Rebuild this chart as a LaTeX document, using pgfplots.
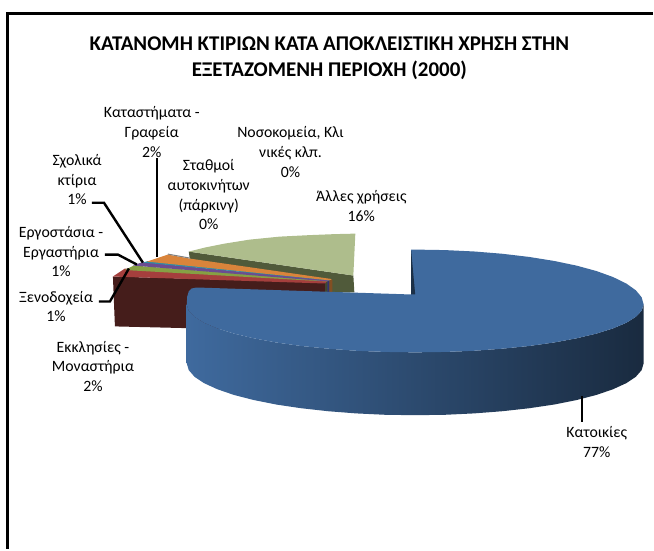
\documentclass[border=0pt]{standalone}
\usepackage{pgfplots}
\pgfplotsset{compat=1.18}
\usepackage{fontspec}
\setmainfont{Carlito}
\definecolor{bluetop}{HTML}{3F6A9E}
\definecolor{greentop}{HTML}{AEBD8C}
\definecolor{greenwall}{HTML}{505A3A}
\definecolor{marwall}{HTML}{451D1B}
\definecolor{redtop}{HTML}{A53F3D}
\definecolor{olivetop}{HTML}{86A044}
\definecolor{purpletop}{HTML}{6B4C91}
\definecolor{tealtop}{HTML}{2F8CA5}
\definecolor{orangetop}{HTML}{D9843B}
\begin{document}
\begin{tikzpicture}[x=1pt,y=1pt]
\begin{axis}[
  scale only axis, width=654pt, height=550pt,
  xmin=0, xmax=654, ymin=0, ymax=550, y dir=reverse,
  hide axis, clip=false, no markers,
  every axis plot/.append style={solid}]
% frame
\addplot[draw=white, opacity=0] coordinates {(0,0) (654,550)};
\addplot[black, line width=2.8pt] coordinates {(7,550) (7,13) (654,13)};
% other uses slice
\addplot[fill=greenwall, draw=none] coordinates {(189,252) (354,276) (355,293) (325,293) (190,259)} -- cycle;
\addplot[fill=greentop, draw=none] coordinates {(189,252) (205,248) (225,244) (250,240) (280,237) (310,235.5) (335,234.5) (356,234) (354,276)} -- cycle;
% hotels/churches
\addplot[fill=marwall, draw=none] coordinates {(113,277) (326,283) (326,320) (240,330) (115,327)} -- cycle;
\addplot[fill=redtop, draw=none] coordinates {(113,277) (125,269) (328,281) (326,284)} -- cycle;
\addplot[fill=olivetop, draw=none] coordinates {(125,270.5) (134,266) (330,281) (328,282)} -- cycle;
\addplot[fill=purpletop, draw=none] coordinates {(133,266) (143,262.5) (331,281) (330,282)} -- cycle;
\addplot[fill=tealtop, draw=none] coordinates {(143,263) (148,261.5) (332,280) (331,281)} -- cycle;
\addplot[fill=orangetop, draw=none] coordinates {(147,262) (168,255) (190,259) (332,279.5) (332,281)} -- cycle;
\addplot[gray, line width=1pt] coordinates {(168,254.5) (190,258.5)};
% small walls near the centre
\addplot[fill=greenwall!80!black, draw=none] coordinates {(326,284) (328,282) (328,293) (326,293)} -- cycle;
\addplot[fill=blue!30!black!80!white, draw=none] coordinates {(328,282) (330,281) (330,293) (328,293)} -- cycle;
\addplot[fill=orangetop!60!black, draw=none] coordinates {(330,281) (333,280) (333,293) (330,293)} -- cycle;
% dwellings
\addplot[left color=bluetop, middle color=black!30!bluetop!80!black, right color=bluetop!40!black, draw=none] coordinates {
(645,305) (643,311.3) (637.2,317.4) (627.6,323.4) (614.3,329) (597.7,334.2) (577.9,338.9) (555.4,343.1) (530.5,346.6) (503.6,349.3) (475.3,351.4) (445.9,352.6) (416,353)
(386.1,352.6) (356.7,351.4) (328.4,349.3) (301.5,346.6) (276.6,343.1) (254.1,338.9) (234.3,334.2) (217.7,329) (204.4,323.4) (194.8,317.4) (189,311.3) (187,305)
(187,364) (189,370.8) (194.8,377.5) (204.4,383.9) (217.7,390) (234.3,395.7) (254.1,400.8) (276.6,405.3) (301.5,409) (328.4,412) (356.7,414.2) (386.1,415.6) (416,416)
(445.9,415.6) (475.3,414.2) (503.6,412) (530.5,409) (555.4,405.3) (577.9,400.8) (597.7,395.7) (614.3,390) (627.6,383.9) (637.2,377.5) (643,370.8) (645,364)} -- cycle;
\addplot[fill=bluetop, draw=none] coordinates {
(412,250) (416,250) (445.9,250.5) (475.3,251.9) (503.6,254.2) (530.5,257.4) (555.4,261.4) (577.9,266.1) (597.7,271.5) (614.3,277.5) (627.6,284) (637.2,290.8) (643,297.8) (645,305)
(643,311.3) (637.2,317.4) (627.6,323.4) (614.3,329) (597.7,334.2) (577.9,338.9) (555.4,343.1) (530.5,346.6) (503.6,349.3) (475.3,351.4) (445.9,352.6) (416,353)
(386.1,352.6) (356.7,351.4) (328.4,349.3) (301.5,346.6) (276.6,343.1) (254.1,338.9) (234.3,334.2) (217.7,329) (204.4,323.4) (194.8,317.4) (189,311.3) (187,305)
(187.5,297) (189,292) (192,289) (197,288) (412,295)} -- cycle;
\addplot[fill=bluetop!45!black, draw=none] coordinates {(412,251) (412,295) (416,295)} -- cycle;
% leaders
\addplot[black, line width=2.4pt] coordinates {(583.5,397) (583.5,423)};
\addplot[black, line width=2.4pt] coordinates {(157,158) (157,257)};
\addplot[black, line width=2.4pt] coordinates {(92,203) (104,203) (143,263)};
\addplot[black, line width=2.4pt] coordinates {(105,255) (118,255) (137,265)};
\addplot[black, line width=2.4pt] coordinates {(99,302) (110,302) (129,269)};
% text
\node[align=center, font=\fontsize{21}{26}\selectfont\bfseries] at (axis cs:330,58) {ΚΑΤΑΝΟΜΗ ΚΤΙΡΙΩΝ ΚΑΤΑ ΑΠΟΚΛΕΙΣΤΙΚΗ ΧΡΗΣΗ ΣΤΗΝ\\ΕΞΕΤΑΖΟΜΕΝΗ ΠΕΡΙΟΧΗ (2000)};
\tikzset{lb/.style={align=center, inner sep=0pt, font=\fontsize{15.8}{19.8}\selectfont}}
\node[lb] at (axis cs:152,132) {Καταστήματα -\\Γραφεία\\2\%};
\node[lb] at (axis cs:77,180) {Σχολικά\\κτίρια\\1\%};
\node[lb] at (axis cs:61,252) {Εργοστάσια -\\Εργαστήρια\\1\%};
\node[lb] at (axis cs:56,307) {Ξενοδοχεία\\1\%};
\node[lb] at (axis cs:93,367) {Εκκλησίες -\\Μοναστήρια\\2\%};
\node[lb] at (axis cs:209,195) {Σταθμοί\\αυτοκινήτων\\(πάρκινγ)\\0\%};
\node[lb] at (axis cs:291,152) {Νοσοκομεία, Κλι\\νικές κλπ.\\0\%};
\node[lb] at (axis cs:362,206) {Άλλες χρήσεις\\16\%};
\node[lb] at (axis cs:598,443) {Κατοικίες\\77\%};
\end{axis}
\end{tikzpicture}
\end{document}
